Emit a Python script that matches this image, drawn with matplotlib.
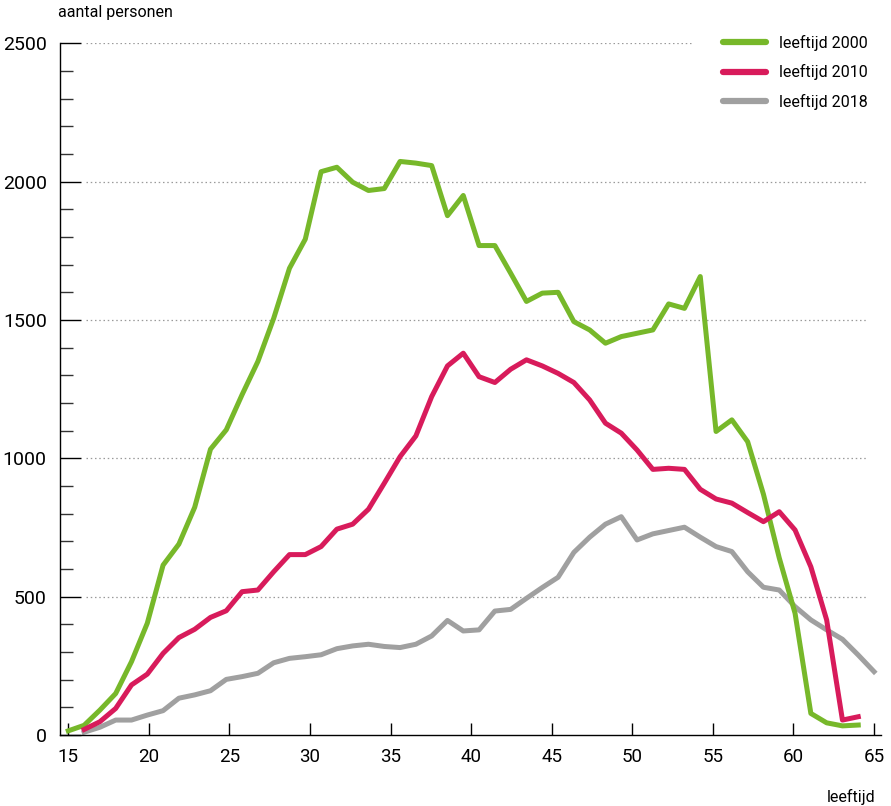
import matplotlib.pyplot as plt
import numpy as np

plt.rcParams['font.family'] = ['Roboto', 'DejaVu Sans']

# leeftijdsklassen (52 posities op de as, labels 15 t/m 65)
slots = np.arange(52)
tick_labels = [15, 20, 25, 30, 35, 40, 45, 50, 55, 60, 65]

# aantal personen per leeftijd
green_2000 = [15, 35, 90, 150, 265, 404, 614, 690, 823, 1033,
              1103, 1230, 1350, 1506, 1687, 1792, 2036, 2052, 1998, 1968,
              1975, 2073, 2067, 2058, 1877, 1950, 1769, 1769, 1669, 1567,
              1597, 1600, 1494, 1464, 1416, 1440, 1452, 1464, 1558, 1542,
              1657, 1097, 1139, 1060, 870, 640, 440, 78, 44, 33, 36]
red_2010 = [20, 48, 96, 181, 220, 295, 352, 382, 425, 449,
            518, 524, 590, 652, 652, 681, 744, 762, 816, 910,
            1006, 1081, 1223, 1334, 1380, 1295, 1274, 1322, 1356, 1334,
            1307, 1274, 1211, 1127, 1091, 1030, 960, 964, 960, 888,
            853, 838, 804, 771, 807, 741, 608, 416, 54, 66]
gray_2018 = [10, 28, 54, 54, 72, 88, 133, 145, 160, 201,
             211, 223, 261, 277, 283, 290, 312, 322, 328, 320,
             316, 328, 358, 414, 376, 380, 448, 454, 494, 533,
             570, 660, 715, 762, 789, 705, 727, 739, 751, 715,
             681, 663, 590, 534, 524, 464, 416, 380, 346, 289, 229]

GREEN = '#77b82a'
RED = '#d81b5b'
GRAY = '#a0a0a0'

fig = plt.figure(figsize=(8.91, 8.06), dpi=100)
ax = fig.add_axes([60 / 891, 1 - 735 / 806, 821 / 891, (735 - 43.3) / 806])

lw = 3.6
ax.plot(slots[0:51], green_2000, color=GREEN, lw=lw, label='leeftijd 2000', zorder=3)
ax.plot(slots[1:51], red_2010, color=RED, lw=lw, label='leeftijd 2010', zorder=3)
ax.plot(slots[1:52], gray_2018, color=GRAY, lw=lw, label='leeftijd 2018', zorder=2)

ax.set_xlim(-0.525, 51.44)
ax.set_ylim(0, 2500)

for s in ['top', 'right']:
    ax.spines[s].set_visible(False)
for s in ['left', 'bottom']:
    ax.spines[s].set_linewidth(1.0)
    ax.spines[s].set_color('black')

# stippellijnen op de hoofdwaarden
for yv in [500, 1000, 1500, 2000, 2500]:
    x_end = 0.77 if yv == 2500 else 0.984
    ax.plot([0.0317, x_end], [yv, yv], transform=ax.get_yaxis_transform(),
            color='#9a9a9a', lw=0.9, ls=(0, (1.2, 2.2)), zorder=1)

ax.set_yticks(np.arange(0, 2501, 500))
ax.set_yticks(np.arange(0, 2501, 100), minor=True)
ax.tick_params(axis='y', which='major', direction='in', length=15, width=1.0,
               pad=9.5, labelsize=14)
ax.tick_params(axis='y', which='minor', direction='in', length=9, width=1.0,
               color='#333333')

ax.set_xticks(np.linspace(0, 51, 11))
ax.set_xticklabels([str(t) for t in tick_labels])
ax.tick_params(axis='x', which='major', direction='in', length=8.4, width=1.0,
               pad=9, labelsize=13.5)

fig.text(58 / 891, 1 - 13 / 806, 'aantal personen', fontsize=11.5,
         ha='left', va='center')
fig.text(875 / 891, 1 - 797 / 806, 'leeftijd', fontsize=11.5,
         ha='right', va='center')

leg = fig.legend(loc='upper left', bbox_to_anchor=(722.7 / 891, 1 - 34.5 / 806),
                 frameon=False, fontsize=11.5, handlelength=2.7, handletextpad=0.85,
                 labelspacing=0.85, borderpad=0, borderaxespad=0)
for line in leg.get_lines():
    line.set_linewidth(4.5)
    line.set_solid_capstyle('round')

plt.savefig('out.png', dpi=100)
